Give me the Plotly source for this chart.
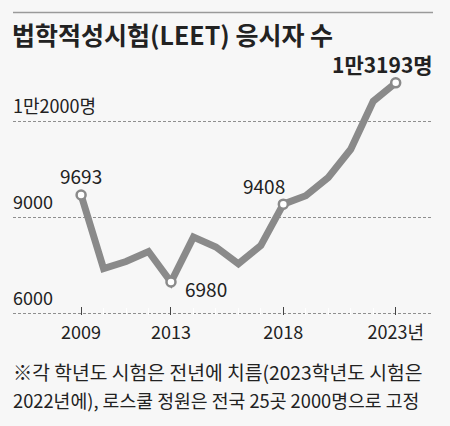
import plotly.graph_objects as go

# LEET applicants by academic year
years = list(range(2009, 2024))
applicants = [9693, 7400, 7620, 7930, 6980, 8380, 8070, 7550, 8120, 9408, 9670, 10240, 11120, 12620, 13193]

# highlighted points and their labels
label_years = [2009, 2013, 2018, 2023]
label_text = ["9693", "6980", "9408", "1만3193명"]

y_ticks = [6000, 9000, 12000]
y_ticktext = ["6000", "9000", "1만2000명"]
x_ticks = [2009, 2013, 2018, 2023]
x_ticktext = ["2009", "2013", "2018", "2023년"]

TITLE = "법학적성시험(LEET) 응시자 수"
NOTE1 = "※각 학년도 시험은 전년에 치름(2023학년도 시험은"
NOTE2 = "2022년에), 로스쿨 정원은 전국 25곳 2000명으로 고정"

FONT = "Noto Sans CJK KR, sans-serif"
LINE = "#8a8a8a"
INK = "#222222"
BG = "#f7f7f7"

fig = go.Figure()
fig.add_trace(go.Scatter(x=years, y=applicants, mode="lines",
                         line=dict(color=LINE, width=7), hoverinfo="skip"))
hl = [applicants[years.index(y)] for y in label_years]
fig.add_trace(go.Scatter(x=label_years, y=hl, mode="markers", cliponaxis=False,
                         marker=dict(size=9, color="white", line=dict(color=LINE, width=2.5)),
                         hoverinfo="skip"))

# label offsets (px) for each highlighted point
offsets = [
    dict(xanchor="center", xshift=0, yshift=20, size=19, bold=False),
    dict(xanchor="left", xshift=12, yshift=-7, size=19, bold=False),
    dict(xanchor="right", xshift=4, yshift=19, size=19, bold=False),
    dict(xanchor="right", xshift=39, yshift=19, size=21, bold=True),
]
for x, y, t, o in zip(label_years, hl, label_text, offsets):
    fig.add_annotation(x=x, y=y, xref="x", yref="y", text=f"<b>{t}</b>" if o["bold"] else t,
                       showarrow=False, xanchor=o["xanchor"], yanchor="middle",
                       xshift=o["xshift"], yshift=o["yshift"],
                       font=dict(family=FONT, size=o["size"], color=INK))

# y tick labels sit above their grid lines at the left edge
for v, t in zip(y_ticks, y_ticktext):
    fig.add_annotation(xref="paper", yref="y", x=0, y=v, text=t, showarrow=False,
                       xanchor="left", yanchor="middle", yshift=16, xshift=-2,
                       font=dict(family=FONT, size=18, color=INK))

fig.add_annotation(xref="paper", yref="paper", x=0, y=-0.22, text=NOTE1, showarrow=False,
                   xanchor="left", yanchor="middle", xshift=-2,
                   font=dict(family=FONT, size=19.3, color=INK))
fig.add_annotation(xref="paper", yref="paper", x=0, y=-0.328, text=NOTE2, showarrow=False,
                   xanchor="left", yanchor="middle", xshift=-2,
                   font=dict(family=FONT, size=18.3, color=INK))

# top rule
fig.add_shape(type="line", xref="paper", yref="paper", x0=0, x1=1, y0=1.172, y1=1.172,
              line=dict(color="#9a9a9a", width=1.5))

fig.update_layout(
    width=450, height=426,
    margin=dict(l=13, r=17, t=57, b=111),
    paper_bgcolor=BG, plot_bgcolor=BG,
    showlegend=False,
    title=dict(text=f"<b>{TITLE}</b>", x=12 / 450, xanchor="left", xref="container",
               y=1 - 36.5 / 426, yanchor="middle", yref="container",
               font=dict(family=FONT, size=25, color=INK)),
    xaxis=dict(range=[2005.97, 2024.66], tickvals=x_ticks, ticktext=x_ticktext,
               ticks="inside", ticklen=8, tickcolor="#444", tickwidth=1,
               ticklabelstandoff=5, automargin=False,
               showgrid=False, zeroline=False, showline=False,
               tickfont=dict(family=FONT, size=18, color=INK),
               minor=dict(tickvals=years, ticks="inside", ticklen=7, tickcolor="white", tickwidth=1)),
    yaxis=dict(range=[5950, 14000], tickvals=y_ticks, showticklabels=False, automargin=False,
               showgrid=True, gridcolor="#8f8f8f",
               griddash="3px,2px", gridwidth=1, zeroline=False, showline=False, ticks=""),
)

fig.write_html("out.html", config={"displayModeBar": False},
               post_script="document.body.style.margin='0';")
